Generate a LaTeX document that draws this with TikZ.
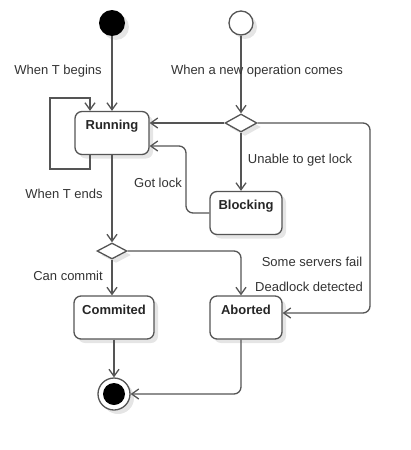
\documentclass[tikz,border=0pt]{standalone}
\usepackage{fontspec}
\setmainfont{Liberation Sans}
\usepackage{tikz}
\usetikzlibrary{shapes.geometric, arrows.meta, shadows, calc}
\definecolor{edgegray}{HTML}{555555}
\definecolor{txtgray}{HTML}{333333}

\begin{document}
\begin{tikzpicture}[x=1pt, y=-1pt,
    shade/.style={drop shadow={shadow xshift=4pt, shadow yshift=-4pt, fill=black, opacity=0.1}},
    statebox/.style={draw=edgegray, line width=1.3pt, rounded corners=7pt, fill=white, shade,
        minimum width=#1, minimum height=40pt, inner ysep=3pt, text height=15pt, text depth=22pt,
        font=\fontsize{13}{15}\selectfont\bfseries, text=black!85},
    choice/.style={draw=edgegray, line width=1.3pt, diamond, fill=white, shade, inner sep=0pt},
    lbl/.style={font=\fontsize{13}{15}\selectfont, text=txtgray},
    arr/.style={draw=edgegray, line width=1.3pt, -{Straight Barb[length=7pt, width=10pt]}}]
\useasboundingbox (0,0) rectangle (411,450);

% Start points
\node[circle, fill=black, minimum size=26pt, inner sep=0pt, shade] (init) at (112,23) {};
\node[circle, draw=edgegray, line width=1.3pt, fill=white, minimum size=24pt, inner sep=0pt, shade] (opinit) at (241,23) {};

% States
\node[statebox=74pt] (run) at (112,133) {Running};
\node[choice, minimum width=32pt, minimum height=18pt] (dec1) at (241,123) {};
\node[statebox=72pt] (block) at (246,213) {Blocking};
\node[choice, minimum width=30pt, minimum height=16pt] (dec2) at (112,251) {};
\node[statebox=80pt] (commit) at (114,317.5) {Commited};
\node[statebox=72pt] (abort) at (246,317.5) {Aborted};

% Final state
\node[circle, draw=edgegray, line width=1.3pt, fill=white, minimum size=32pt, inner sep=0pt, shade] (final) at (114,394) {};
\node[circle, fill=black, minimum size=22pt, inner sep=0pt] (finaldot) at (final) {};

% Helper points
\coordinate (loopbl) at (50,169);
\coordinate (looptr) at (90,98);
\coordinate (gotlk) at (186,146);
\coordinate (rside) at (370,313);

% Transitions
\draw[arr] (init) -- (run.north);
\draw[arr] (opinit) -- (dec1.north);
\draw[arr] ([xshift=-22pt]run.south) |- (loopbl) |- (looptr) -- ([xshift=-22pt]run.north);
\draw[arr] (dec1.west) -- (dec1.west -| run.east);
\draw[arr, rounded corners=7pt] (dec1.east) -| (rside) -- (rside -| abort.east);
\draw[arr] (dec1.south) -- (dec1.south |- block.north);
\draw[arr, rounded corners=7pt] (block.west) -| (gotlk) -- (gotlk -| run.east);
\draw[arr] (run.south) -- (dec2.north);
\draw[arr, rounded corners=7pt] (dec2.east) -| (dec1 |- abort.north);
\draw[arr] (dec2.south) -- (dec2.south |- commit.north);
\draw[arr] (commit.south) -- (final.north);
\draw[arr, rounded corners=7pt] (dec1 |- abort.south) |- (final.east);

% Guards
\node[lbl] (tbegin) at (58,71) {When T begins};
\node[lbl] (newop) at (257,71) {When a new operation comes};
\node[lbl] (nolock) at (300,160) {Unable to get lock};
\node[lbl] (gotlock) at (158,183) {Got lock};
\node[lbl] (tend) at (64,194) {When T ends};
\node[lbl] (srvfail) at (312,262) {Some servers fail};
\node[lbl] (deadlk) at (309,287) {Deadlock detected};
\node[lbl] (cancommit) at (68,276) {Can commit};
\end{tikzpicture}
\end{document}
